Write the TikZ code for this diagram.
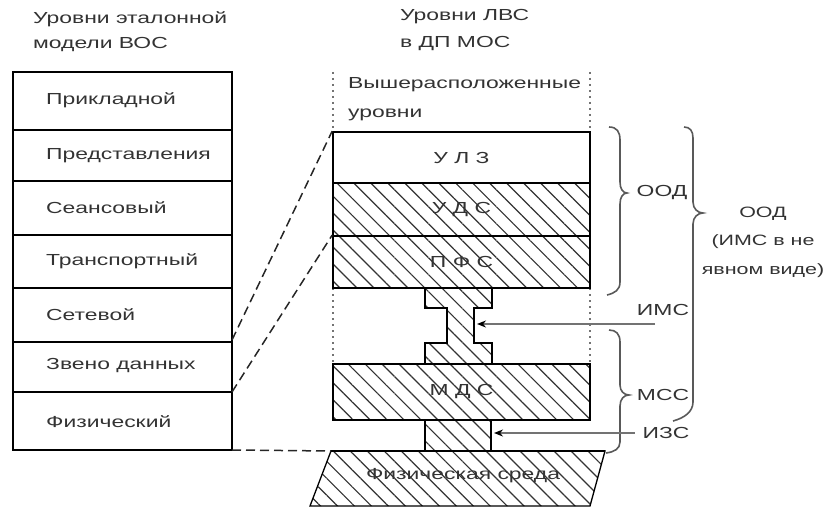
\documentclass[tikz,border=0pt]{standalone}
\usepackage{fontspec}
\setmainfont{Liberation Sans}[FakeStretch=1.43]
\usetikzlibrary{patterns.meta,arrows.meta}
\begin{document}
\begin{tikzpicture}[x=1pt,y=-1pt,
  txt/.style={font=\fontsize{16}{18}\selectfont, text=black!80, inner sep=0pt},
  hatch/.style={pattern={Lines[angle=-45,distance=12pt,line width=1.2pt]},pattern color=black!80},
  box/.style={draw=black,line width=1.7pt},
  rbox/.style={box,minimum width=257pt,inner sep=0pt,font=\fontsize{16}{18}\selectfont,text=black!80},
  lrow/.style={box,minimum width=219pt,inner sep=0pt},
  dsh/.style={draw=black!85,line width=1.5pt,dash pattern=on 9pt off 5pt},
  dots/.style={draw=black!55,line width=1.4pt,dash pattern=on 2pt off 4pt},
  brace/.style={draw=black!65,line width=1.6pt},
  pointer/.style={draw=black!55,line width=1.6pt,-{Stealth[length=9pt,width=7pt,black]}}
]
\useasboundingbox (0,0) rectangle (827,508);

% headers
\node[txt,anchor=west] (h1) at (33,19) {Уровни эталонной};
\node[txt,anchor=west] (h2) at (33,45) {модели ВОС};
\node[txt,anchor=west] (h3) at (400,17) {Уровни ЛВС};
\node[txt,anchor=west] (h4) at (400,44) {в ДП МОС};

% left stack
\node[lrow,minimum height=58pt] (r1) at (122.5,101) {};
\node[lrow,minimum height=51pt] (r2) at (122.5,155.5) {};
\node[lrow,minimum height=54pt] (r3) at (122.5,208) {};
\node[lrow,minimum height=53pt] (r4) at (122.5,261.5) {};
\node[lrow,minimum height=54pt] (r5) at (122.5,315) {};
\node[lrow,minimum height=50pt] (r6) at (122.5,367) {};
\node[lrow,minimum height=58pt] (r7) at (122.5,421) {};
\node[txt,anchor=west] (t1) at (46,100) {Прикладной};
\node[txt,anchor=west] (t2) at (46,156) {Представления};
\node[txt,anchor=west] (t3) at (46,208) {Сеансовый};
\node[txt,anchor=west] (t4) at (46,261) {Транспортный};
\node[txt,anchor=west] (t5) at (46,315) {Сетевой};
\node[txt,anchor=west] (t6) at (46,366) {Звено данных};
\node[txt,anchor=west] (t7) at (46,422) {Физический};

% dotted frame of upper levels
\coordinate (dl1) at (333,72); \coordinate (dl2) at (333,364);
\coordinate (dr1) at (590,72); \coordinate (dr2) at (590,364);
\draw[dots] (dl1) -- (dl2);
\draw[dots] (dr1) -- (dr2);
\node[txt,anchor=west] (up1) at (348,85) {Вышерасположенные};
\node[txt,anchor=west] (up2) at (348,115) {уровни};

% right stack
\node[rbox,minimum height=51pt] (ulz) at (461.5,157.5) {У Л З};
\node[rbox,hatch,minimum height=53pt] (uds) at (461.5,209.5) {У Д С};
\node[rbox,hatch,minimum height=52pt] (pfs) at (461.5,262) {П Ф С};

% IMS connector
\draw[box,line width=1.4pt,hatch] (425,288) -- (492,288) -- (492,308) -- (474,308) -- (474,343)
  -- (492,343) -- (492,364) -- (425,364) -- (425,343) -- (447,343) -- (447,308) -- (425,308) -- cycle;
\coordinate (ims) at (477,324);

\node[rbox,hatch,minimum height=56pt] (mds) at (461.5,392) {М Д С};

% IZS connector
\draw[box,line width=1.4pt,hatch] (425,420) rectangle (491,451);
\coordinate (izs) at (494,433);

% physical medium
\coordinate (ph1) at (331,451);
\coordinate (ph2) at (605,451);
\draw[draw=black,line width=1.3pt,hatch] (ph1) -- (ph2) -- (590,506) -- (310,506) -- cycle;
\draw[line width=2pt] (ph1) -- (ph2);
\node[txt] (phys) at (463,476) {Физическая среда};

% dashed projections
\coordinate (L5) at (232,340);
\coordinate (L6) at (232,392);
\coordinate (L7) at (232,450);
\draw[dsh] (L5) -- (ulz.north west);
\draw[dsh] (L6) -- (pfs.north west);
\draw[dsh] (L7) -- (ph1);

% braces
\draw[brace] (609,127) .. controls (617,127) and (620,132) .. (620,140) -- (620,182)
  .. controls (620,189) and (623,193) .. (627,193) .. controls (623,193) and (620,197) .. (620,204)
  -- (620,282) .. controls (620,290) and (615,293) .. (607,295);
\node[txt] (ood1) at (662,193) {ООД};

\draw[brace] (609,330) .. controls (616,330) and (620,334) .. (620,342) -- (620,385)
  .. controls (620,391) and (624,395) .. (629,395) .. controls (624,395) and (620,399) .. (620,406)
  -- (620,442) .. controls (620,449) and (614,452) .. (606,453);
\node[txt] (mss) at (663,395) {МСС};

\draw[brace] (684,127) .. controls (690,127) and (693,131) .. (693,138) -- (693,202)
  .. controls (693,209) and (698,213) .. (703,213) .. controls (698,213) and (693,217) .. (693,224)
  -- (693,402) .. controls (693,412) and (684,418) .. (673,421);
\node[txt,align=center,font=\fontsize{15}{28.5}\selectfont] (ood2) at (763,242) {ООД\\(ИМС в не\\явном виде)};

% pointers
\node[txt] (imsl) at (663,310) {ИМС};
\coordinate (imsp) at (655,324);
\draw[pointer] (imsp) -- (ims);
\node[txt] (izsl) at (666,433) {ИЗС};
\draw[pointer] (izsl.west) ++(-8,0) coordinate (izsp) -- (izs);
\end{tikzpicture}
\end{document}
